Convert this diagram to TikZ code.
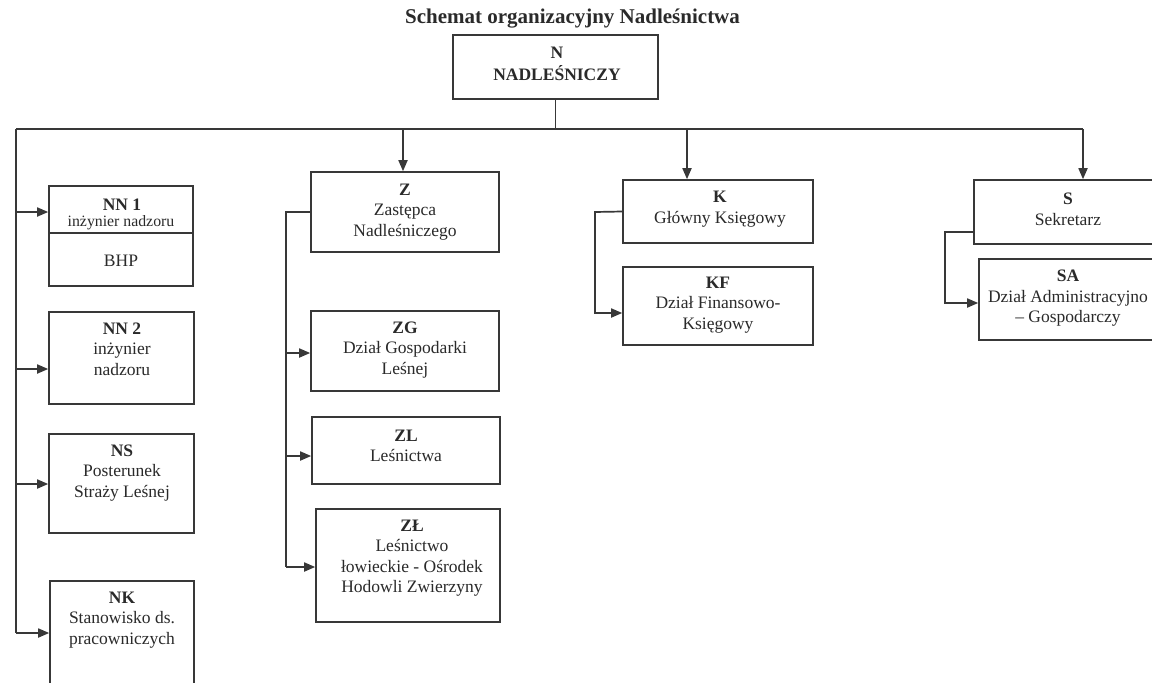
\documentclass[tikz,border=0pt]{standalone}
\usepackage{fontspec}
\setmainfont{Liberation Serif}
\usetikzlibrary{arrows.meta}
\definecolor{lncol}{HTML}{383838}
\definecolor{txcol}{HTML}{2A2A2A}
\begin{document}
\begin{tikzpicture}[x=1pt,y=-1pt,
  box/.style={draw=lncol, line width=1.6pt, inner sep=0pt},
  txt/.style={text=txcol, align=center, font=\fontsize{17.5}{20.5}\selectfont, inner sep=0pt},
  small/.style={text=txcol, align=center, font=\fontsize{15.8}{18}\selectfont, inner sep=0pt},
  conn/.style={draw=lncol, line width=1.7pt},
  arr/.style={draw=lncol, line width=1.7pt, -{Triangle[length=11pt,width=9pt]}}]
\useasboundingbox (0,0) rectangle (1152,683);
\fill[white] (0,0) rectangle (1152,683);

% title
\node[text=txcol, font=\fontsize{21}{24}\selectfont\bfseries, inner sep=0pt] (title) at (572.5,19) {Schemat organizacyjny Nadleśnictwa};

% boxes
\node[box, minimum width=205pt, minimum height=64pt] (N) at (555.5,67) {};
\node[box, minimum width=188pt, minimum height=80pt] (Z) at (405,212) {};
\node[box, minimum width=188pt, minimum height=80pt] (ZG) at (405,351) {};
\node[box, minimum width=188pt, minimum height=67pt] (ZL) at (406,450.5) {};
\node[box, minimum width=184pt, minimum height=113pt] (ZLL) at (408,565.5) {};
\node[box, minimum width=190pt, minimum height=63pt] (K) at (718,211.5) {};
\node[box, minimum width=190pt, minimum height=78pt] (KF) at (718,306) {};
\node[box, minimum width=188pt, minimum height=64pt] (S) at (1068,212) {};
\node[box, minimum width=183pt, minimum height=81pt] (SA) at (1070.5,299.5) {};
\node[box, minimum width=144pt, minimum height=100pt] (NN1) at (121,236) {};
\node[box, minimum width=145pt, minimum height=92pt] (NN2) at (121.5,358) {};
\node[box, minimum width=145pt, minimum height=99pt] (NS) at (121.5,483.5) {};
\node[box, minimum width=144pt, minimum height=119pt] (NK) at (122,640.5) {};
\coordinate (d1) at (49,233);
\coordinate (d2) at (193,233);
\draw[conn, line width=1.3pt] (d1) -- (d2);

% texts
\node[txt, font=\fontsize{17.5}{21.5}\selectfont\bfseries] (tN) at (557,64) {N\\NADLEŚNICZY};
\node[txt] (tZ) at (405,212) {\textbf{Z}\\Zastępca\\Nadleśniczego};
\node[txt] (tZG) at (405,350) {\textbf{ZG}\\Dział Gospodarki\\Leśnej};
\node[txt] (tZL) at (406,446) {\textbf{ZL}\\Leśnictwa};
\node[txt] (tZLL) at (412,558) {\textbf{ZŁ}\\Leśnictwo\\łowieckie - Ośrodek\\Hodowli Zwierzyny};
\node[txt] (tK) at (720,209) {\textbf{K}\\Główny Księgowy};
\node[txt] (tKF) at (718,305) {\textbf{KF}\\Dział Finansowo-\\Księgowy};
\node[txt] (tS) at (1068,209.5) {\textbf{S}\\Sekretarz};
\node[txt] (tSA) at (1068,298.5) {\textbf{SA}\\Dział Administracyjno\\– Gospodarczy};
\node[txt] (tNN1) at (122,205) {\textbf{NN 1}};
\node[small] (tNN1b) at (121,223) {inżynier nadzoru};
\node[txt] (tBHP) at (121,261) {BHP};
\node[txt] (tNN2) at (122,349) {\textbf{NN 2}\\inżynier\\nadzoru};
\node[txt] (tNS) at (122,473) {\textbf{NS}\\Posterunek\\Straży Leśnej};
\node[txt] (tNK) at (122,620) {\textbf{NK}\\Stanowisko ds.\\pracowniczych};

% bus
\coordinate (bL) at (16,129);
\coordinate (bR) at (1083,129);
\coordinate (kx) at (687,129);
\coordinate (zx) at (403,129);
\draw[conn] (N.south) -- (N.south |- bL);
\draw[conn] (bL) -- (bR);
\draw[arr] (zx) -- (zx |- Z.north);
\draw[arr] (kx) -- (kx |- K.north);
\draw[arr] (bR) -- (bR |- S.north);

% left column
\coordinate (lEnd) at (16,633);
\draw[conn] (bL) -- (lEnd);
\draw[arr] (16,212) -- (NN1.west |- 0,212);
\draw[arr] (16,369) -- (NN2.west |- 0,369);
\draw[arr] (16,484) -- (NS.west |- 0,484);
\draw[arr] (lEnd) -- (NK.west |- lEnd);

% Z column
\coordinate (zb) at (286,212);
\coordinate (zEnd) at (286,567);
\draw[conn] (Z.west) -- (zb) -- (zEnd);
\draw[arr] (286,353) -- (ZG.west |- 0,353);
\draw[arr] (286,456) -- (ZL.west |- 0,456);
\draw[arr] (zEnd) -- (ZLL.west |- zEnd);

% K branch
\draw[arr] (K.west) -- (595,212) -- (595,313) -- (KF.west |- 0,313);

% S branch
\draw[arr] (S.west |- 0,232) -- (945,232) -- (945,303) -- (SA.west |- 0,303);
\end{tikzpicture}
\end{document}
